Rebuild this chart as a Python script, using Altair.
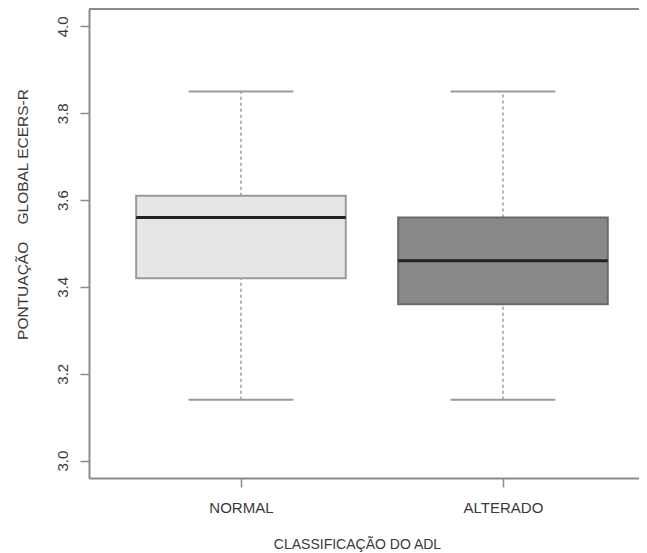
import altair as alt
import pandas as pd

# ---- data ----
categories = ["NORMAL", "ALTERADO"]
whisker_low = [3.14, 3.14]
q1 = [3.42, 3.36]
median = [3.56, 3.46]
q3 = [3.61, 3.56]
whisker_high = [3.85, 3.85]
y_ticks = [3.0, 3.2, 3.4, 3.6, 3.8, 4.0]

df = pd.DataFrame({
    "cat": categories,
    "pos": list(range(1, len(categories) + 1)),
    "lo": whisker_low,
    "q1": q1,
    "med": median,
    "q3": q3,
    "hi": whisker_high,
})

label_expr = " : ".join(
    [f"datum.value == {i + 1} ? '{c}'" for i, c in enumerate(categories)]
) + " : ''"

FONT = "Liberation Sans"
TXT = "#3a3a3a"
FRAME = "#8a8a8a"
W, H = 550, 469

xscale = alt.Scale(domain=[0.42, 0.42 + W / 262.0], nice=False, zero=False)
yscale = alt.Scale(domain=[2.96, 4.04], nice=False, zero=False)

x_axis = alt.Axis(
    orient="bottom", values=[i + 1 for i in range(len(categories))],
    labelExpr=label_expr, title="CLASSIFICAÇÃO DO ADL",
    grid=False, domainColor=FRAME, domainWidth=2, tickColor=FRAME, tickWidth=1.5,
    tickSize=9, labelFont=FONT, labelFontSize=15, labelColor=TXT,
    labelBaseline="alphabetic", labelPadding=25,
    titleFont=FONT, titleFontSize=14, titleFontWeight="normal", titleColor=TXT,
    titleBaseline="alphabetic", titleAnchor="start", titleAlign="center",
    titleX=268, titleY=70,
)
y_axis = alt.Axis(
    orient="left", values=y_ticks, format=".1f", title="PONTUAÇÃO\u00a0\u00a0\u00a0\u00a0GLOBAL ECERS-R",
    grid=False, domainColor=FRAME, domainWidth=2, tickColor=FRAME, tickWidth=1.5,
    tickSize=9, labelFont=FONT, labelFontSize=15, labelColor=TXT,
    labelAngle=270, labelAlign="center", labelBaseline="alphabetic", labelPadding=13,
    titleFont=FONT, titleFontSize=15.5, titleFontWeight="normal", titleColor=TXT,
    titleAngle=270, titleAlign="center", titleBaseline="alphabetic",
    titleX=-62, titleY=205,
)

base = alt.Chart(df).transform_calculate(
    bl="datum.pos - 0.4", br="datum.pos + 0.4",
    cl="datum.pos - 0.2", cr="datum.pos + 0.2",
)

whisk_low = base.mark_rule(color="#8c8c8c", strokeDash=[3, 3], strokeWidth=1.3).encode(
    x=alt.X("pos:Q", scale=xscale, axis=x_axis),
    y=alt.Y("lo:Q", scale=yscale, axis=y_axis),
    y2="q1:Q",
)
whisk_high = base.mark_rule(color="#8c8c8c", strokeDash=[3, 3], strokeWidth=1.3).encode(
    x=alt.X("pos:Q", scale=xscale),
    y=alt.Y("q3:Q", scale=yscale),
    y2="hi:Q",
)
cap_low = base.mark_rule(color="#9a9a9a", strokeWidth=2).encode(
    x=alt.X("cl:Q", scale=xscale), x2="cr:Q",
    y=alt.Y("lo:Q", scale=yscale),
)
cap_high = base.mark_rule(color="#9a9a9a", strokeWidth=2).encode(
    x=alt.X("cl:Q", scale=xscale), x2="cr:Q",
    y=alt.Y("hi:Q", scale=yscale),
)
box = base.mark_rect(strokeWidth=2).encode(
    x=alt.X("bl:Q", scale=xscale), x2="br:Q",
    y=alt.Y("q1:Q", scale=yscale), y2="q3:Q",
    fill=alt.Fill("cat:N", scale=alt.Scale(domain=categories, range=["#e6e6e6", "#898989"]), legend=None),
    stroke=alt.Stroke("cat:N", scale=alt.Scale(domain=categories, range=["#9a9a9a", "#6a6a6a"]), legend=None),
)
med = base.mark_rule(color="#222222", strokeWidth=3).encode(
    x=alt.X("bl:Q", scale=xscale), x2="br:Q",
    y=alt.Y("med:Q", scale=yscale),
)
# top edge of the plot frame (decoration)
frame_top = alt.Chart(df).mark_rule(color=FRAME, strokeWidth=2).encode(
    x=alt.value(0), x2=alt.value(W + 10), y=alt.value(0)
)

chart = alt.layer(
    whisk_low, whisk_high, cap_low, cap_high, box, med, frame_top
).properties(
    width=W, height=H,
    autosize=alt.AutoSizeParams(type="none"),
    padding={"left": 81, "top": 1, "right": 0, "bottom": 75},
    background="white",
).configure_view(stroke=None)

chart.save("out.html", embed_options={"renderer": "svg", "actions": False})
